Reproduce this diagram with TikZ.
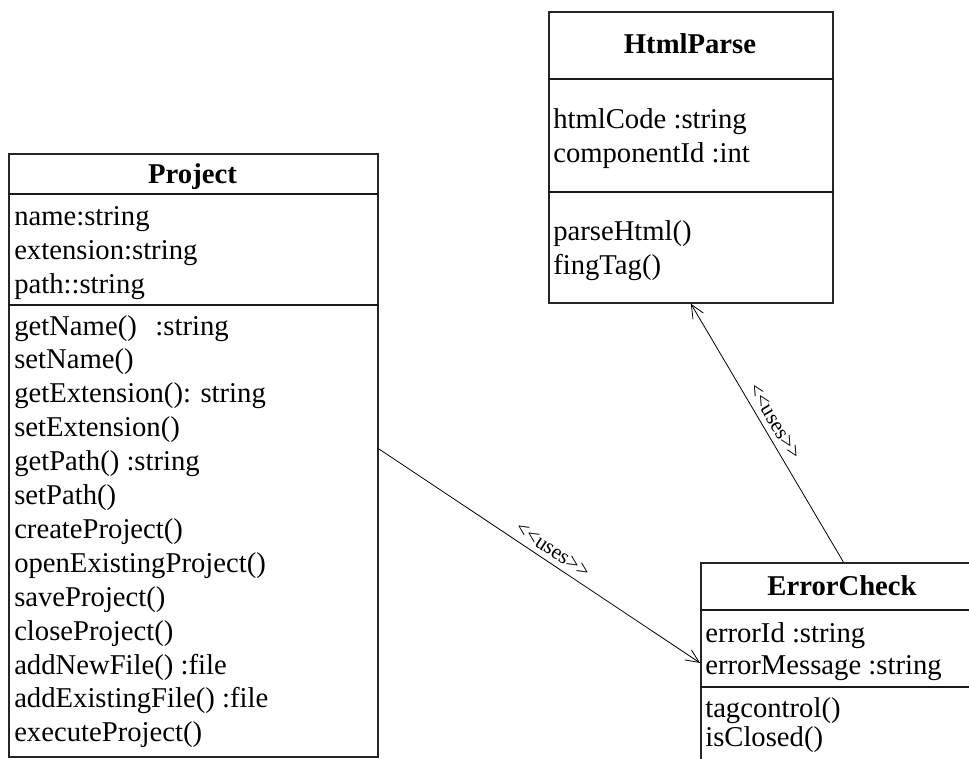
\documentclass[tikz,border=0pt]{standalone}
\usepackage{fontspec}
\setmainfont{Liberation Serif}
\usetikzlibrary{arrows.meta,calc}
\newcommand{\usesstereo}{<\kern0pt<uses>\kern0pt>}
\begin{document}
\begin{tikzpicture}[x=0.75pt,y=-0.75pt,
  classbox/.style={draw=black!85, line width=1.3pt, inner sep=0pt, anchor=north west},
  divider/.style={draw=black!90, line width=1.9pt},
  classname/.style={font=\fontsize{21.5}{25}\selectfont\bfseries, anchor=base, inner sep=0pt},
  member/.style={font=\fontsize{21.5}{25}\selectfont, anchor=base west, inner sep=0pt},
  uses/.style={-{Straight Barb[length=10pt,width=9pt]}, line width=0.6pt},
  stereo/.style={font=\fontsize{16}{18}\selectfont, sloped, above, inner sep=4pt, pos=0.52}]
\clip (0,0) rectangle (969,758);
\fill[white] (0,0) rectangle (969,758);

% Project class
\node[classbox, minimum width=276.75pt, minimum height=452.25pt] (project) at (8,153) {};
\node[classname] (projectname) at (192.5,183) {Project};
\draw[divider] (project.west |- 0,194) -- (project.east |- 0,194);
\draw[divider] (project.west |- 0,305) -- (project.east |- 0,305);
\foreach \t [count=\i] in {name:string, extension:string, path::string}
  \node[member] (pattr\i) at (14,{225+34*(\i-1)}) {\t};
\foreach \t [count=\i] in {getName()\hspace{0.65em}:string, setName(), getExtension(): string,
    setExtension(), getPath() :string, setPath(), createProject(), openExistingProject(),
    saveProject(), closeProject(), addNewFile() :file, addExistingFile() :file, executeProject()}
  \node[member] (pop\i) at (14,{335+33.9*(\i-1)}) {\t};

% HtmlParse class
\node[classbox, minimum width=213pt, minimum height=218.25pt] (hp) at (548,11) {};
\node[classname] (hpname) at (690,53) {HtmlParse};
\draw[divider] (hp.west |- 0,79) -- (hp.east |- 0,79);
\draw[divider] (hp.west |- 0,192) -- (hp.east |- 0,192);
\node[member] (hpattr1) at (553,128) {htmlCode :string};
\node[member] (hpattr2) at (553,162) {componentId :int};
\node[member] (hpop1) at (553,240) {parseHtml()};
\node[member] (hpop2) at (553,274) {fingTag()};

% ErrorCheck class
\node[classbox, minimum width=213.75pt, minimum height=178.5pt] (ec) at (700,562) {};
\node[classname] (ecname) at (842,595) {ErrorCheck};
\draw[divider] (ec.west |- 0,610) -- (ec.east |- 0,610);
\draw[divider] (ec.west |- 0,687) -- (ec.east |- 0,687);
\node[member] (ecattr1) at (705,642) {errorId :string};
\node[member] (ecattr2) at (705,674) {errorMessage :string};
\node[member] (ecop1) at (705,717) {tagcontrol()};
\node[member] (ecop2) at (705,746) {isClosed()};

% dependencies
\draw[uses] ([yshift=4.9pt]project.east) -- node[stereo] (uses1) {\usesstereo} ([yshift=14.25pt]ec.west);
\draw[uses] (ec.north) -- node[stereo] (uses2) {\usesstereo} (hp.south);
\end{tikzpicture}
\end{document}
